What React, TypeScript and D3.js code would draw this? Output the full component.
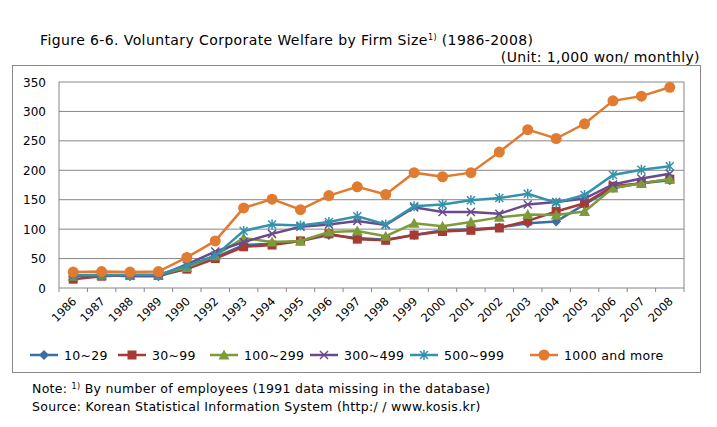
import * as d3 from 'd3';

const years = ['1986','1987','1988','1989','1990','1992','1993','1994','1995','1996','1997','1998','1999','2000','2001','2002','2003','2004','2005','2006','2007','2008'];
const s10 = [20,22,20,20,33,52,73,75,80,90,85,82,90,98,100,103,110,113,142,170,178,183];
const s30 = [15,20,22,22,32,50,70,73,80,92,83,81,90,96,98,102,114,130,144,173,178,185];
const s100 = [20,22,22,22,35,55,85,78,80,95,97,88,110,105,112,120,125,124,130,170,178,185];
const s300 = [21,22,21,21,40,62,78,92,104,108,114,107,137,129,129,126,142,146,152,176,186,194];
const s500 = [22,22,22,22,38,55,97,108,106,112,122,108,139,142,149,153,160,145,158,192,201,207];
const s1000 = [27,28,27,28,52,80,136,151,133,157,172,159,196,189,196,231,269,254,279,318,326,341];
const yTicks = [0,50,100,150,200,250,300,350];

const series = [
  { name: '10~29', values: s10, color: '#3a6ea5', marker: 'diamond' },
  { name: '30~99', values: s30, color: '#a83a36', marker: 'square' },
  { name: '100~299', values: s100, color: '#7d9b3a', marker: 'triangle' },
  { name: '300~499', values: s300, color: '#6a4a8c', marker: 'x' },
  { name: '500~999', values: s500, color: '#3393ad', marker: 'star' },
  { name: '1000 and more', values: s1000, color: '#e07b31', marker: 'circle' },
];

function Marker({ type, x, y, color }: { type: string; x: number; y: number; color: string }) {
  if (type === 'diamond') return <path d={`M${x},${y - 5}L${x + 5},${y}L${x},${y + 5}L${x - 5},${y}Z`} fill={color} />;
  if (type === 'square') return <rect x={x - 4.5} y={y - 4.5} width={9} height={9} fill={color} />;
  if (type === 'triangle') return <path d={`M${x},${y - 5.5}L${x + 5.5},${y + 4.5}L${x - 5.5},${y + 4.5}Z`} fill={color} />;
  if (type === 'x') return <path d={`M${x - 4},${y - 4}L${x + 4},${y + 4}M${x - 4},${y + 4}L${x + 4},${y - 4}`} stroke={color} strokeWidth={1.5} />;
  if (type === 'star') return <path d={`M${x - 4},${y - 4}L${x + 4},${y + 4}M${x - 4},${y + 4}L${x + 4},${y - 4}M${x},${y - 5}L${x},${y + 5}`} stroke={color} strokeWidth={1.5} />;
  return <circle cx={x} cy={y} r={5.5} fill={color} />;
}

export default function App() {
  const W = 717, H = 427;
  const left = 59, right = 684, top = 82, bottom = 288;
  const x = d3.scaleBand().domain(years).range([left, right]);
  const y = d3.scaleLinear().domain([0, 350]).range([bottom, top]);
  const cx = (i: number) => (x(years[i]) || 0) + x.bandwidth() / 2;
  const line = d3.line<number>().x((_, i) => cx(i)).y(d => y(d));
  const font = 'DejaVu Sans, sans-serif';
  const legendX = [30, 118, 210, 310, 410, 530];
  return (
    <svg width={W} height={H} style={{ position: 'absolute', left: 0, top: 0, background: '#fff' }} fontFamily={font}>
      <text x={40} y={45} fontSize={14} letterSpacing={0.4} fill="#000">Figure 6-6. Voluntary Corporate Welfare by Firm Size<tspan fontSize={8} dy={-5}>1)</tspan><tspan dy={5}> (1986-2008)</tspan></text>
      <text x={700} y={62} fontSize={14} letterSpacing={0.4} textAnchor="end">(Unit: 1,000 won/ monthly)</text>
      <rect x={12.5} y={65.5} width={688} height={307} fill="none" stroke="#888" />
      {yTicks.map(t => (
        <g key={t}>
          <line x1={left} x2={right} y1={y(t)} y2={y(t)} stroke="#868686" />
          <text x={left - 13} y={y(t) + 4.5} fontSize={12} textAnchor="end">{t}</text>
        </g>
      ))}
      <line x1={left} x2={left} y1={top} y2={bottom} stroke="#868686" />
      <line x1={right} x2={right} y1={top} y2={bottom} stroke="#868686" />
      {years.map((yr, i) => (
        <g key={yr}>
          <line x1={x(yr)} x2={x(yr)} y1={bottom} y2={bottom + 4} stroke="#868686" />
          <text transform={`translate(${cx(i) + 4},${bottom + 14}) rotate(-45)`} fontSize={11.5} textAnchor="end">{yr}</text>
        </g>
      ))}
      <line x1={right} x2={right} y1={bottom} y2={bottom + 4} stroke="#868686" />
      {series.map(s => (
        <g key={s.name}>
          <path d={line(s.values) || ''} fill="none" stroke={s.color} strokeWidth={2.5} />
          {s.values.map((v, i) => <Marker key={i} type={s.marker} x={cx(i)} y={y(v)} color={s.color} />)}
        </g>
      ))}
      {series.map((s, k) => (
        <g key={s.name}>
          <line x1={legendX[k]} x2={legendX[k] + 28} y1={355} y2={355} stroke={s.color} strokeWidth={2.5} />
          <Marker type={s.marker} x={legendX[k] + 14} y={355} color={s.color} />
          <text x={legendX[k] + 34} y={359.5} fontSize={12.5} letterSpacing={0.3}>{s.name}</text>
        </g>
      ))}
      <text x={32} y={393} fontSize={12.5} letterSpacing={0.3}>Note: <tspan fontSize={8} dy={-4}>1)</tspan><tspan dy={4}> By number of employees (1991 data missing in the database)</tspan></text>
      <text x={32} y={411} fontSize={12.5} letterSpacing={0.3}>Source: Korean Statistical Information System (http:/ / www.kosis.kr)</text>
    </svg>
  );
}
